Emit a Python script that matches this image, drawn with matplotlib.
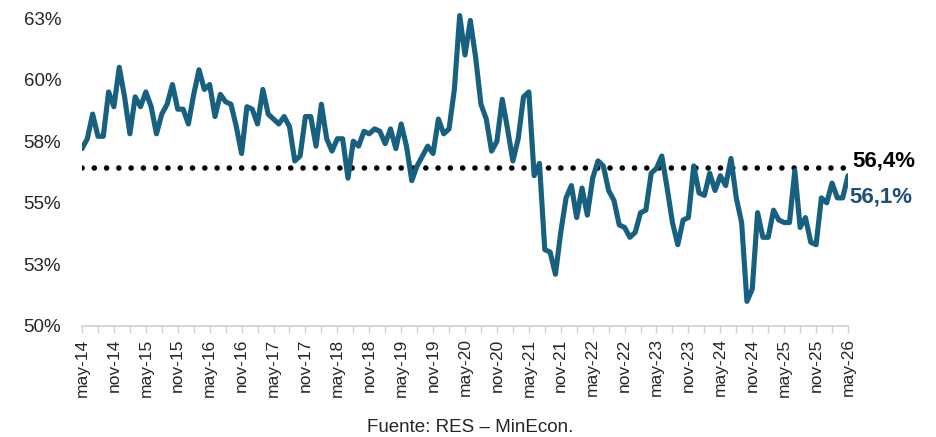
import matplotlib
matplotlib.use('Agg')
import matplotlib.pyplot as plt
import numpy as np

SET_DPI = 100
FIGSIZE = (9.37, 4.37)

LINE_COLOR = '#17607F'
LABEL_COLOR = '#1F4E79'
AXIS_COLOR = '#D0D0D0'

# monthly series, may-14 .. may-26 (%)
values = [
    57.2, 57.6, 58.6, 57.7, 57.7, 59.5, 58.9, 60.5, 59.3, 57.8,
    59.3, 58.9, 59.5, 58.9, 57.8, 58.6, 59.0, 59.8, 58.8, 58.8,
    58.2, 59.4, 60.4, 59.6, 59.8, 58.5, 59.4, 59.1, 59.0, 58.1,
    57.0, 58.9, 58.8, 58.2, 59.6, 58.6, 58.4, 58.2, 58.5, 58.1,
    56.7, 56.9, 58.5, 58.5, 57.3, 59.0, 57.6, 57.1, 57.6, 57.6,
    56.0, 57.5, 57.3, 57.9, 57.8, 58.0, 57.9, 57.4, 58.0, 57.2,
    58.2, 57.3, 55.9, 56.5, 56.9, 57.3, 57.0, 58.4, 57.8, 58.0,
    59.6, 62.6, 61.0, 62.4, 60.9, 59.0, 58.4, 57.1, 57.5, 59.2,
    58.0, 56.7, 57.6, 59.3, 59.5, 56.1, 56.6, 53.1, 53.0, 52.1,
    53.8, 55.2, 55.7, 54.4, 55.6, 54.5, 56.0, 56.7, 56.5, 55.5,
    55.1, 54.1, 54.0, 53.6, 53.8, 54.6, 54.7, 56.2, 56.4, 56.9,
    55.6, 54.2, 53.3, 54.3, 54.4, 56.5, 55.4, 55.3, 56.2, 55.5,
    56.1, 55.7, 56.8, 55.2, 54.2, 51.0, 51.5, 54.6, 53.6, 53.6,
    54.7, 54.3, 54.2, 54.2, 56.3, 54.0, 54.4, 53.4, 53.3, 55.2,
    55.0, 55.8, 55.2, 55.2, 56.1,
]
average = 56.4
average_label = '56,4%'
last_label = '56,1%'

y_ticks = [50, 52.5, 55, 57.5, 60, 62.5]
y_labels = ['50%', '53%', '55%', '58%', '60%', '63%']

years = range(14, 27)
x_labels = []
for yy in years:
    x_labels.append('may-%d' % yy)
    if yy < 26:
        x_labels.append('nov-%d' % yy)

source = 'Fuente: RES \u2013 MinEcon.'

plt.rcParams['font.family'] = ['Liberation Sans', 'DejaVu Sans']

months = np.arange(len(values))

fig = plt.figure(figsize=FIGSIZE, dpi=SET_DPI)
ax = fig.add_axes([82 / 937, 1 - 326 / 437, (848 - 82) / 937, (326 - 5.7) / 437])

ax.plot(months, values, '-', color=LINE_COLOR, lw=3.7,
        solid_joinstyle='round', solid_capstyle='round', zorder=3)
ax.plot([months[0], months[-1]], [average, average], color='black', lw=4.0,
        linestyle=(0, (0.01, 2.2)), dash_capstyle='round', zorder=2)

ax.set_xlim(0, months[-1])
ax.set_ylim(50, 63)

ax.set_yticks(y_ticks)
ax.set_yticklabels(y_labels, fontsize=13.5, color='#262626')
ax.tick_params(axis='y', length=0, pad=15)

ax.set_xticks(np.arange(0, len(values), 6))
ax.set_xticks(np.arange(0, len(values), 3), minor=True)
ax.set_xticklabels(x_labels, rotation=90, fontsize=12.5, color='#262626')
ax.tick_params(axis='x', which='both', length=5, width=1, color=AXIS_COLOR,
               direction='out', pad=4)

for side in ['top', 'right', 'left']:
    ax.spines[side].set_visible(False)
ax.spines['bottom'].set_color(AXIS_COLOR)
ax.spines['bottom'].set_linewidth(1.2)

ax.annotate(average_label, xy=(months[-1], average), xytext=(3, 5),
            textcoords='offset points', ha='left', va='center',
            fontsize=16, fontweight='bold', color='black', annotation_clip=False)
ax.annotate(last_label, xy=(months[-1], values[-1]), xytext=(1, -15),
            textcoords='offset points', ha='left', va='center',
            fontsize=16, fontweight='bold', color=LABEL_COLOR, annotation_clip=False)

fig.text(470 / 937, 1 - 427 / 437, source, ha='center', va='center',
         fontsize=13.5, color='#262626')

plt.savefig('out.png', dpi=SET_DPI)
plt.close()
